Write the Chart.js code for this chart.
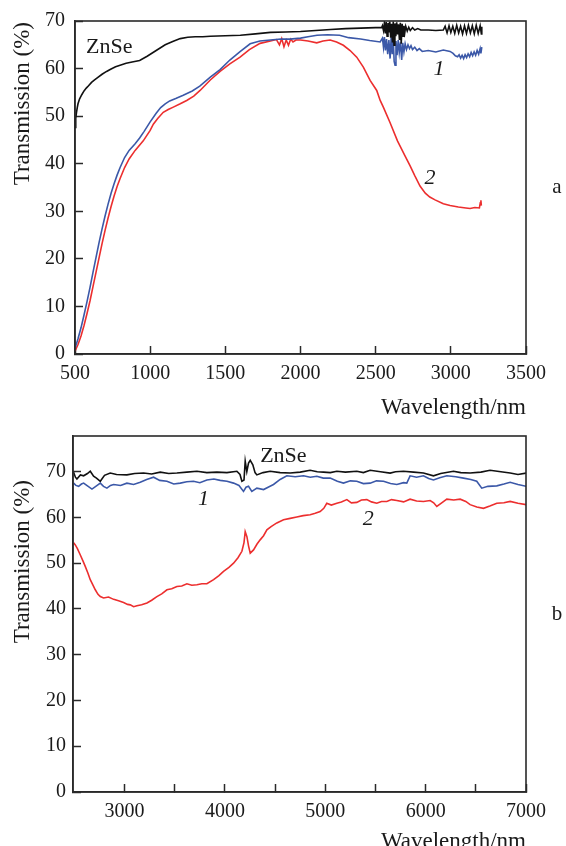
<!DOCTYPE html>
<html><head><meta charset="utf-8">
<script src="https://cdn.jsdelivr.net/npm/chart.js@4"></script>
<style>
html,body{margin:0;padding:0;background:#fff;overflow:hidden;width:566px;height:846px;}
#wa{position:absolute;left:0;top:0;width:566px;height:422px;}
#wb{position:absolute;left:0;top:422px;width:566px;height:434px;}
</style></head><body>
<div id="wa"><canvas id="ca" width="566" height="422"></canvas></div>
<div id="wb"><canvas id="cb" width="566" height="434"></canvas></div>
<script>
// ---------- Panel a ----------
const aXTicks = [500,1000,1500,2000,2500,3000,3500];
const aYTicks = [0,10,20,30,40,50,60,70];
const aZnSeX = [500,505,510,515,520,530,545,560,575,590,610,630,650,680,710,740,770,800,840,880,930,980,1040,1100,1150,1200,1250,1300,1350,1400,1500,1600,1700,1800,1900,2000,2100,2200,2300,2400,2500,2540,
 2545,2552,2558,2564,2570,2576,2582,2588,2594,2600,2606,2612,2617,2622,2628,2634,2640,2646,2652,2658,2664,2670,2676,2682,2688,2694,2700,2710,2720,2730,2745,2760,2780,2800,2850,2900,2950,
 2962,2975,2988,3000,3013,3026,3039,3052,3065,3078,3091,3104,3117,3130,3143,3156,3169,3182,3195,3203,3206];
const aZnSeY = [47.6,49.5,50.8,51.8,52.6,53.6,54.5,55.3,55.9,56.4,57.1,57.6,58.1,58.8,59.4,59.9,60.4,60.7,61.1,61.4,61.7,62.6,63.8,65.0,65.7,66.3,66.6,66.7,66.7,66.8,66.9,67.0,67.3,67.6,67.7,67.8,68.0,68.2,68.4,68.5,68.6,68.6,
 69.0,68.0,69.6,67.4,69.8,66.8,69.6,67.6,69.9,66.5,69.4,65.5,69.9,64.9,69.5,66.8,69.7,67.2,69.3,66.0,69.6,65.2,69.4,66.8,69.0,67.6,68.9,67.9,68.7,68.0,68.6,68.1,68.4,68.1,68.1,68.0,68.1,
 68.9,67.5,69.0,67.6,68.9,67.4,69.1,67.5,68.9,67.3,69.0,67.4,69.1,67.5,69.0,67.3,69.1,67.4,69.0,67.3,68.8];
const a1X = [500,520,540,560,580,600,620,640,660,680,700,720,740,760,780,800,830,860,900,930,960,1000,1040,1070,1100,1130,1170,1220,1280,1330,1400,1465,1530,1600,1665,1730,1800,1870,1930,2000,2050,2110,2180,2260,2320,2400,2460,2530,
 2545,2552,2558,2565,2572,2580,2588,2596,2603,2610,2617,2623,2629,2635,2642,2650,2657,2665,2673,2680,2688,2696,2705,2715,2725,2735,2745,2760,2775,2790,2810,2850,2900,2950,2995,3015,3030,3045,
 3055,3065,3075,3085,3095,3105,3115,3125,3135,3145,3155,3165,3175,3185,3195,3200,3206];
const a1Y = [1.2,3.2,5.5,8.2,11.0,14.0,17.2,20.3,23.4,26.3,29.0,31.5,33.8,35.8,37.6,39.2,41.3,42.8,44.2,45.4,46.8,48.8,50.6,51.8,52.6,53.2,53.7,54.4,55.3,56.3,58.2,59.8,61.8,63.6,65.2,65.8,66.0,66.2,66.2,66.4,66.7,67.0,67.1,67.0,66.5,66.2,65.9,65.6,
 66.4,64.5,66.6,63.8,66.2,63.0,66.0,62.1,66.5,63.0,66.2,61.5,60.7,65.8,62.8,66.0,63.4,65.5,61.8,65.4,63.5,65.2,64.0,65.0,64.2,64.8,64.0,64.5,63.8,64.2,63.6,63.8,63.5,63.9,63.6,63.2,62.7,62.5,
 62.9,62.2,62.8,62.1,62.9,62.3,63.1,62.5,63.4,62.7,63.5,62.8,63.8,63.0,64.2,63.2,64.5];
const a2X = [500,520,540,560,580,600,620,640,660,680,700,720,740,760,780,800,830,860,900,954,1000,1021,1050,1087,1120,1154,1200,1243,1290,1332,1400,1465,1530,1598,1660,1731,1800,1840,1860,1875,1890,1905,1920,1935,1950,1970,2000,2050,2108,2150,2197,2240,2285,2330,2374,2418,2463,2507,2530,2551,2596,2645,2696,2730,2760,2795,2830,2860,2895,2950,2995,3050,3100,3128,3160,3190,3196,3200,3203];
const a2Y = [0.6,2.0,3.8,6.0,8.5,11.2,14.2,17.2,20.2,23.2,26.0,28.6,31.0,33.2,35.2,36.9,39.2,41.0,42.8,44.8,47.0,48.3,49.5,50.8,51.4,51.9,52.6,53.3,54.2,55.4,57.6,59.4,61.0,62.4,64.0,65.3,65.8,66.1,65.0,66.3,64.6,66.0,64.9,66.2,65.6,66.0,66.0,65.8,65.4,65.8,66.0,65.6,64.9,63.8,62.4,60.3,57.5,55.4,53.3,51.9,48.6,44.8,41.6,39.5,37.5,35.3,33.8,33.0,32.4,31.6,31.2,30.9,30.7,30.6,30.8,30.7,31.8,32.3,31.2];

// ---------- Panel b ----------
const bXTicks = [3000,3500,4000,4500,5000,5500,6000,6500,7000];
const bYTicks = [0,10,20,30,40,50,60,70];
const bZnSeX = [2492,2510,2525,2560,2592,2630,2658,2691,2720,2758,2800,2857,2920,3023,3100,3189,3270,3355,3440,3521,3620,3721,3820,3920,4020,4119,4150,4169,4190,4202,4218,4235,4252,4278,4300,4318,4380,4451,4550,4650,4750,4849,4920,4982,5050,5115,5200,5314,5380,5447,5550,5646,5700,5779,5880,5978,6078,6150,6277,6350,6443,6550,6642,6750,6842,6920,7001];
const bZnSeY = [69.9,68.8,68.4,69.3,69.1,69.6,70.1,69.0,68.6,67.9,69.2,69.7,69.4,69.3,69.6,69.7,69.5,69.9,69.6,69.7,69.9,70.1,69.8,69.9,69.8,70.1,69.4,67.9,68.2,72.3,70.0,71.9,72.5,71.5,69.8,69.3,69.8,70.1,69.8,69.7,69.9,70.3,70.0,69.9,69.8,70.1,69.9,70.1,69.8,70.3,70.0,69.7,70.0,70.1,69.9,69.7,69.1,69.6,70.1,69.8,69.7,69.9,70.3,70.0,69.7,69.4,69.7];
const b1X = [2492,2515,2542,2570,2592,2630,2675,2720,2758,2790,2824,2860,2891,2960,3023,3090,3156,3220,3289,3350,3422,3490,3555,3620,3687,3750,3820,3890,3953,4020,4086,4140,4185,4210,4235,4268,4318,4385,4440,4484,4550,4617,4700,4783,4850,4916,4980,5049,5120,5181,5250,5314,5380,5447,5510,5580,5650,5713,5780,5812,5845,5910,5978,6030,6078,6140,6211,6300,6377,6450,6509,6559,6620,6709,6780,6842,6920,7001];
const b1Y = [67.5,67.0,66.8,67.3,67.5,66.9,66.2,66.9,67.5,66.8,66.4,67.0,67.2,67.0,67.5,67.2,67.7,68.3,68.8,68.1,67.9,67.3,67.5,67.8,67.9,67.6,68.2,68.4,68.1,67.9,67.5,67.0,65.7,66.6,66.8,65.7,66.4,66.1,66.7,67.2,68.3,69.1,68.9,69.1,68.8,69.0,68.6,68.6,67.9,67.5,68.0,67.9,67.4,67.5,68.0,67.9,67.4,67.2,67.6,67.5,69.1,68.8,69.1,68.5,68.2,68.7,69.1,68.9,68.6,68.3,67.9,66.4,66.8,66.9,67.3,67.7,67.2,66.8];
const b2X = [2492,2509,2530,2559,2585,2608,2635,2658,2685,2708,2735,2758,2791,2840,2891,2940,2990,3030,3057,3090,3123,3170,3223,3270,3322,3370,3422,3470,3521,3570,3621,3670,3721,3770,3820,3887,3940,3986,4040,4086,4130,4169,4190,4202,4219,4235,4252,4285,4320,4351,4385,4418,4460,4517,4584,4650,4716,4780,4849,4900,4949,4985,5015,5060,5115,5160,5215,5260,5314,5360,5414,5460,5513,5560,5613,5660,5713,5780,5845,5910,5978,6045,6080,6111,6160,6211,6280,6344,6400,6443,6510,6576,6640,6709,6780,6842,6920,7001];
const b2Y = [54.5,54.0,53.2,51.8,50.5,49.3,47.8,46.4,45.2,44.2,43.2,42.7,42.4,42.6,42.1,41.8,41.4,41.0,40.9,40.5,40.7,40.9,41.3,41.9,42.7,43.3,44.2,44.4,44.9,45.0,45.5,45.2,45.3,45.5,45.5,46.4,47.3,48.2,49.1,50.0,51.2,52.6,54.5,56.9,55.8,53.8,52.2,52.9,54.2,55.1,56.0,57.3,58.0,58.8,59.5,59.8,60.1,60.4,60.6,60.9,61.3,62.0,63.1,62.7,63.1,63.4,63.9,63.2,63.3,63.8,63.9,63.4,63.1,63.5,63.5,63.9,63.7,63.4,64.0,63.6,63.5,63.7,63.2,62.4,63.2,64.0,63.8,64.0,63.5,62.8,62.3,62.0,62.5,63.1,63.2,63.5,63.1,62.8];

const FONT = "'Liberation Serif', 'Times New Roman', serif";
const C_BLACK = '#111111', C_BLUE = '#3b58a8', C_RED = '#ec2e2e', C_AXIS = '#2a2a2a';
Chart.defaults.font.family = FONT;
Chart.defaults.color = '#1a1a1a';

const pts = (xs, ys) => xs.map((x, i) => ({x: x, y: ys[i]}));

const framePlugin = {
  id: 'frame',
  afterDraw(chart, args, o) {
    const ctx = chart.ctx, a = chart.chartArea;
    const xs = chart.scales.x, ys = chart.scales.y;
    ctx.save();
    ctx.strokeStyle = C_AXIS; ctx.lineWidth = 1.6;
    ctx.strokeRect(a.left, a.top, a.right - a.left, a.bottom - a.top);
    ctx.fillStyle = '#1a1a1a';
    (o.notes || []).forEach(n => {
      ctx.font = (n.italic ? 'italic ' : '') + '22px ' + FONT;
      ctx.textAlign = n.align || 'left';
      ctx.textBaseline = 'alphabetic';
      ctx.fillText(n.text, xs.getPixelForValue(n.x), ys.getPixelForValue(n.y));
    });
    if (o.ytitle) {
      ctx.save();
      ctx.font = '23px ' + FONT;
      ctx.translate(o.ytitle.x, o.ytitle.yEnd);
      ctx.rotate(-Math.PI / 2);
      ctx.textAlign = 'right';
      ctx.textBaseline = 'middle';
      ctx.fillText(o.ytitle.text, 0, 0);
      ctx.restore();
    }
    if (o.side) {
      ctx.font = '21px ' + FONT;
      ctx.textAlign = 'center';
      ctx.textBaseline = 'middle';
      ctx.fillText(o.side.text, o.side.x, (a.top + a.bottom) / 2);
    }
    ctx.restore();
  }
};

function makeChart(id, cfg) {
  const ds = (data, color) => ({data: data, borderColor: color, borderWidth: 1.6, pointRadius: 0, tension: 0, fill: false});
  return new Chart(document.getElementById(id), {
    type: 'line',
    data: {datasets: [
      ds(pts(cfg.zx, cfg.zy), C_BLACK),
      ds(pts(cfg.x1, cfg.y1), C_BLUE),
      ds(pts(cfg.x2, cfg.y2), C_RED)
    ]},
    options: {
      responsive: false, animation: false, parsing: true,
      layout: {padding: {top: cfg.padTop, right: 40, left: 0, bottom: 0}},
      plugins: {legend: {display: false}, tooltip: {enabled: false},
        frame: {notes: cfg.notes, ytitle: cfg.ytitle, side: cfg.side}},
      scales: {
        x: {
          type: 'linear', min: cfg.xmin, max: cfg.xmax,
          afterBuildTicks: s => { s.ticks = cfg.xticks.map(v => ({value: v})); },
          afterFit: s => { s.height = cfg.xh; s.paddingLeft = 0; s.paddingRight = 0; },
          grid: {drawOnChartArea: false, drawTicks: true, tickLength: -8, tickColor: C_AXIS, tickWidth: 1.5},
          border: {display: true, color: C_AXIS, width: 1.6},
          ticks: {autoSkip: false, maxRotation: 0, padding: cfg.xpad, font: {size: 20},
            callback: v => cfg.xlabel(v)},
          title: {display: true, text: 'Wavelength/nm', align: 'end', font: {size: 23}, padding: {top: 0, bottom: 0}}
        },
        y: {
          type: 'linear', min: 0, max: cfg.ymax,
          afterBuildTicks: s => { s.ticks = cfg.yticks.map(v => ({value: v})); },
          afterFit: s => { s.width = cfg.yw; s.paddingTop = 0; s.paddingBottom = 0; },
          grid: {drawOnChartArea: false, drawTicks: true, tickLength: -8, tickColor: C_AXIS, tickWidth: 1.5},
          border: {display: true, color: C_AXIS, width: 1.6},
          ticks: {autoSkip: false, padding: cfg.ypad, font: {size: 20}}
        }
      }
    },
    plugins: [framePlugin]
  });
}

makeChart('ca', {
  zx: aZnSeX, zy: aZnSeY, x1: a1X, y1: a1Y, x2: a2X, y2: a2Y,
  xmin: 500, xmax: 3500, ymax: 70, xticks: aXTicks, yticks: aYTicks,
  xlabel: v => String(v), padTop: 21, xh: 68, yw: 75, xpad: 16, ypad: 18,
  notes: [
    {text: 'ZnSe', x: 573, y: 63.2},
    {text: '1', x: 2922, y: 58.6, italic: true, align: 'center'},
    {text: '2', x: 2862, y: 35.7, italic: true, align: 'center'}
  ],
  ytitle: {text: 'Transmission (%)', x: 23, yEnd: 22},
  side: {text: 'a', x: 557}
});

makeChart('cb', {
  zx: bZnSeX, zy: bZnSeY, x1: b1X, y1: b1Y, x2: b2X, y2: b2Y,
  xmin: 2486, xmax: 7000, ymax: 77.8, xticks: bXTicks, yticks: bYTicks,
  xlabel: v => (v % 1000 === 0 ? String(v) : ''), padTop: 14, xh: 64, yw: 73, xpad: 16, ypad: 15,
  notes: [
    {text: 'ZnSe', x: 4351, y: 72.2},
    {text: '1', x: 3786, y: 62.8, italic: true, align: 'center'},
    {text: '2', x: 5427, y: 58.4, italic: true, align: 'center'}
  ],
  ytitle: {text: 'Transmission (%)', x: 23, yEnd: 58},
  side: {text: 'b', x: 557}
});
</script>
</body></html>
